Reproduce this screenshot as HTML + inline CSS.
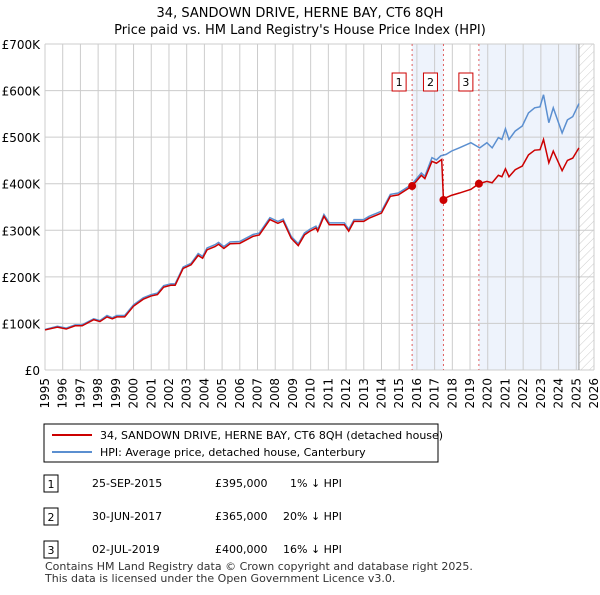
<!DOCTYPE html>
<html><head><meta charset="utf-8"><style>
body{margin:0;background:#fff;font-family:"Liberation Sans",sans-serif;}
svg text{font-family:"DejaVu Sans","Liberation Sans",sans-serif;}
</style></head><body>
<svg id="chart" width="600" height="590" xmlns="http://www.w3.org/2000/svg">
<defs><pattern id="hatch" width="6" height="6" patternUnits="userSpaceOnUse" patternTransform="rotate(45)"><line x1="0" y1="0" x2="0" y2="6" stroke="#ccc" stroke-width="1"/></pattern></defs>
<text x="300" y="17" text-anchor="middle" font-size="13" fill="#000">34, SANDOWN DRIVE, HERNE BAY, CT6 8QH</text>
<text x="300" y="34" text-anchor="middle" font-size="13" fill="#000">Price paid vs. HM Land Registry's House Price Index (HPI)</text>
<g id="plot"></g>
<g>
<rect x="44" y="424" width="394" height="38" fill="#fff" stroke="#000" stroke-width="1"/>
<line x1="52" y1="435" x2="92" y2="435" stroke="#cc0000" stroke-width="2"/>
<text x="100" y="439" font-size="11">34, SANDOWN DRIVE, HERNE BAY, CT6 8QH (detached house)</text>
<line x1="52" y1="452" x2="92" y2="452" stroke="#5b8fd0" stroke-width="2"/>
<text x="100" y="456" font-size="11">HPI: Average price, detached house, Canterbury</text>
</g>
<g font-size="11">
<rect x="44" y="475" width="14" height="17" fill="#fff" stroke="#000"/><text x="51" y="488" text-anchor="middle">1</text>
<text x="92" y="487">25-SEP-2015</text><text x="215" y="487">£395,000</text><text x="290" y="487">1% ↓ HPI</text>
<rect x="44" y="508" width="14" height="17" fill="#fff" stroke="#000"/><text x="51" y="521" text-anchor="middle">2</text>
<text x="92" y="520">30-JUN-2017</text><text x="215" y="520">£365,000</text><text x="283" y="520">20% ↓ HPI</text>
<rect x="44" y="541" width="14" height="17" fill="#fff" stroke="#000"/><text x="51" y="554" text-anchor="middle">3</text>
<text x="92" y="553">02-JUL-2019</text><text x="215" y="553">£400,000</text><text x="283" y="553">16% ↓ HPI</text>
</g>
<text x="45" y="570" font-size="11" fill="#333">Contains HM Land Registry data © Crown copyright and database right 2025.</text>
<text x="45" y="582" font-size="11" fill="#333">This data is licensed under the Open Government Licence v3.0.</text>
</svg>
<script>
const hpiT=[1995.0,1995.7,1996.2,1996.7,1997.1,1997.75,1998.1,1998.5,1998.8,1999.05,1999.5,2000.0,2000.55,2001.0,2001.35,2001.7,2002.1,2002.35,2002.8,2003.25,2003.65,2003.9,2004.15,2004.6,2004.8,2005.1,2005.45,2006.0,2006.75,2007.1,2007.7,2008.15,2008.45,2008.9,2009.3,2009.65,2009.95,2010.3,2010.4,2010.75,2011.05,2011.4,2011.9,2012.15,2012.45,2013.0,2013.3,2013.75,2014.0,2014.5,2014.95,2015.7,2016.25,2016.45,2016.85,2017.1,2017.35,2017.65,2017.95,2018.4,2019.05,2019.55,2019.95,2020.25,2020.6,2020.8,2021.0,2021.2,2021.55,2021.95,2022.3,2022.65,2022.95,2023.15,2023.45,2023.7,2024.2,2024.5,2024.8,2025.15];
const hpiV=[87,94,90,97,97,110,106,117,112,117,117,140,155,162,165,181,185,185,221,229,250,244,262,269,274,265,275,276,291,294,327,319,324,287,271,294,302,309,302,334,316,316,316,302,323,323,330,337,341,377,380,398,423,416,456,451,460,463,470,477,488,477,488,477,499,495,518,495,513,524,552,563,565,591,531,563,509,537,544,572];
const priceT=[1995.0,1995.7,1996.2,1996.7,1997.1,1997.75,1998.1,1998.5,1998.8,1999.05,1999.5,2000.0,2000.55,2001.0,2001.35,2001.7,2002.1,2002.35,2002.8,2003.25,2003.65,2003.9,2004.15,2004.6,2004.8,2005.1,2005.45,2006.0,2006.75,2007.1,2007.7,2008.15,2008.45,2008.9,2009.3,2009.65,2009.95,2010.3,2010.4,2010.75,2011.05,2011.4,2011.9,2012.15,2012.45,2013.0,2013.3,2013.75,2014.0,2014.5,2014.95,2015.73,2016.25,2016.45,2016.85,2017.1,2017.4,2017.5,2017.65,2017.95,2018.4,2019.05,2019.5,2019.95,2020.25,2020.6,2020.8,2021.0,2021.2,2021.55,2021.95,2022.3,2022.65,2022.95,2023.15,2023.45,2023.7,2024.2,2024.5,2024.8,2025.15];
const priceV=[86,92,88,95,95,108,104,114,110,114,114,137,152,159,162,178,182,182,218,226,246,240,258,265,270,261,271,272,287,290,323,315,320,283,267,290,298,305,298,330,312,312,312,298,319,319,326,333,337,373,376,395,418,411,448,444,452,365,370,375,380,388,400,405,402,418,415,432,415,430,438,462,472,473,495,445,470,428,450,455,477];
const saleT=[2015.73,2017.5,2019.5];
const saleV=[395,365,400];
const saleLabels=["1","2","3"];
const yTicks=[0,100,200,300,400,500,600,700];
const yTickLabels=["£0","£100K","£200K","£300K","£400K","£500K","£600K","£700K"];
const xYears=[];for(let y=1995;y<=2026;y++)xYears.push(y);
const X0=45,X1=594,Y0=370,Y1=44,T0=1995,T1=2026,V1=700;
const xs=t=>X0+(t-T0)*(X1-X0)/(T1-T0);
const ys=v=>Y0-v*(Y0-Y1)/V1;
const NS="http://www.w3.org/2000/svg";
const g=document.getElementById('plot');
function mk(tag,attrs,parent){const e=document.createElementNS(NS,tag);for(const k in attrs)e.setAttribute(k,attrs[k]);(parent||g).appendChild(e);return e;}
let e;
e=mk('rect',{x:xs(saleT[0]),y:Y1,width:xs(saleT[1])-xs(saleT[0]),height:Y0-Y1,fill:'#eef3fc'});


e=mk('rect',{x:xs(saleT[2]),y:Y1,width:xs(2025.15)-xs(saleT[2]),height:Y0-Y1,fill:'#eef3fc'});


e=mk('rect',{x:xs(2025.15),y:Y1,width:X1-xs(2025.15),height:Y0-Y1,fill:'url(#hatch)'});


xYears.forEach(y=>{
 e=mk('line',{x1:xs(y),x2:xs(y),y1:Y1,y2:Y0,stroke:'#cccccc','stroke-width':1});
 
 
 const lx=xs(y)+4,ly=378;
 e=mk('text',{x:lx,y:ly,'text-anchor':'end','font-size':12,fill:'#000',transform:'rotate(-90 '+lx+' '+ly+')'});e.textContent=y;
 
 
});
yTicks.forEach((v,i)=>{
 e=mk('line',{x1:X0,x2:X1,y1:ys(v),y2:ys(v),stroke:'#cccccc','stroke-width':1});
 
 
 e=mk('text',{x:X0-5,y:ys(v)+5,'text-anchor':'end','font-size':12,fill:'#000'});e.textContent=yTickLabels[i];
 
 
});
e=mk('line',{x1:xs(2025.15),x2:xs(2025.15),y1:Y1,y2:Y0,stroke:'#999','stroke-width':1});


saleT.forEach((t,i)=>{
 e=mk('line',{x1:xs(t),x2:xs(t),y1:Y1,y2:Y0,stroke:'#e06060','stroke-width':1,'stroke-dasharray':'2,3'});
 
 
 e=mk('rect',{x:xs(t)-20,y:73,width:14,height:18,fill:'#fff',stroke:'#cc0000','stroke-width':1});
 
 
 e=mk('text',{x:xs(t)-13,y:86,'text-anchor':'middle','font-size':11,fill:'#000'});e.textContent=saleLabels[i];
 
 
});
e=mk('polyline',{points:hpiT.map((t,i)=>xs(t)+','+ys(hpiV[i])).join(' '),fill:'none',stroke:'#5b8fd0','stroke-width':1.5});


e=mk('polyline',{points:priceT.map((t,i)=>xs(t)+','+ys(priceV[i])).join(' '),fill:'none',stroke:'#cc0000','stroke-width':1.5});


saleT.forEach((t,i)=>{
 e=mk('circle',{cx:xs(t),cy:ys(saleV[i]),r:4,fill:'#cc0000'});
 
 
});
</script>
</body></html>
